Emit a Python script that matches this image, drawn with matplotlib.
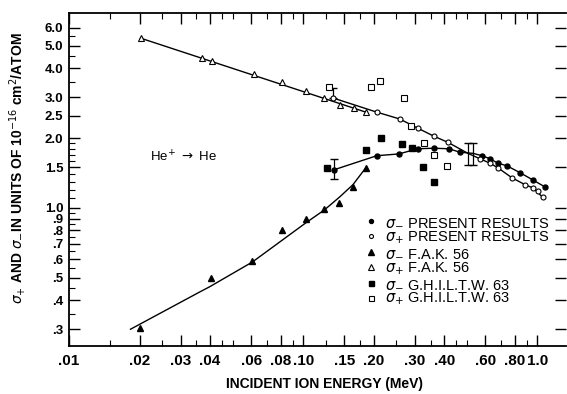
import matplotlib.pyplot as plt
from matplotlib.ticker import FixedLocator, NullFormatter

plt.rcParams["font.family"] = ["Liberation Sans", "DejaVu Sans"]
plt.rcParams["mathtext.fontset"] = "dejavusans"

# sigma_- present results (filled circles)
minus_present_e = [0.135, 0.206, 0.256, 0.308, 0.361, 0.419, 0.466, 0.581, 0.627,
                   0.678, 0.741, 0.842, 0.957, 1.08]
minus_present_y = [1.46, 1.68, 1.71, 1.80, 1.81, 1.80, 1.74, 1.68, 1.63,
                   1.56, 1.52, 1.42, 1.32, 1.23]
minus_err_e = [0.135, 0.53]
minus_err_y = [1.46, 1.72]
minus_err_lo = [0.13, 0.19]
minus_err_hi = [0.17, 0.19]

# sigma_+ present results (open circles)
plus_present_e = [0.134, 0.206, 0.258, 0.308, 0.361, 0.414, 0.568, 0.627, 0.678,
                  0.778, 0.885, 0.957, 1.005, 1.056]
plus_present_y = [2.98, 2.59, 2.42, 2.21, 2.04, 1.92, 1.63, 1.56, 1.49,
                  1.35, 1.26, 1.22, 1.18, 1.11]
plus_err_e = [0.134, 0.505]
plus_err_y = [2.98, 1.72]
plus_err_lo = [0.0, 0.19]
plus_err_hi = [0.30, 0.19]

# F.A.K. 56
minus_fak_e = [0.0200, 0.0402, 0.0604, 0.0809, 0.1025, 0.1224, 0.1417, 0.163, 0.185]
minus_fak_y = [0.304, 0.50, 0.59, 0.80, 0.896, 0.99, 1.05, 1.23, 1.49]
plus_fak_e = [0.0202, 0.0371, 0.0406, 0.0614, 0.0809, 0.1025, 0.1224, 0.1432, 0.1644, 0.185]
plus_fak_y = [5.40, 4.43, 4.30, 3.78, 3.49, 3.19, 2.98, 2.78, 2.70, 2.59]

# G.H.I.L.T.W. 63
minus_gh_e = [0.126, 0.185, 0.214, 0.264, 0.29, 0.324, 0.361]
minus_gh_y = [1.49, 1.78, 2.00, 1.89, 1.81, 1.50, 1.29]
plus_gh_e = [0.1285, 0.194, 0.212, 0.269, 0.288, 0.327, 0.361, 0.410]
plus_gh_y = [3.32, 3.32, 3.53, 2.98, 2.26, 1.91, 1.69, 1.52]

# drawn curves
fak_minus_curve_e = [0.0183, 0.0361, 0.0398, 0.0607, 0.1025, 0.123, 0.143, 0.163, 0.185]
fak_minus_curve_y = [0.30, 0.434, 0.457, 0.585, 0.862, 0.98, 1.115, 1.26, 1.49]
fak_plus_curve_e = [0.0202, 0.185]
fak_plus_curve_y = [5.40, 2.59]
plus_curve_e = [0.134, 0.206, 0.258, 0.308, 0.361, 0.414, 0.505, 0.568, 0.627,
                0.678, 0.778, 0.885, 0.957, 1.056]
plus_curve_y = [2.98, 2.59, 2.42, 2.21, 2.04, 1.92, 1.72, 1.63, 1.56,
                1.49, 1.35, 1.26, 1.22, 1.11]
minus_curve_e = [0.135, 0.206, 0.256, 0.308, 0.361, 0.419, 0.466, 0.53, 0.581,
                 0.627, 0.678, 0.741, 0.842, 0.957, 1.08]
minus_curve_y = [1.46, 1.68, 1.71, 1.80, 1.81, 1.80, 1.74, 1.72, 1.68,
                 1.63, 1.56, 1.52, 1.42, 1.32, 1.23]

x_ticks = [0.01, 0.02, 0.03, 0.04, 0.06, 0.08, 0.10, 0.15, 0.20, 0.30, 0.40, 0.60, 0.80, 1.0]
x_labels = [".01", ".02", ".03", ".04", ".06", ".08", ".10", ".15", ".20", ".30",
            ".40", ".60", ".80", "1.0"]
x_minor = [0.015, 0.025, 0.035, 0.045, 0.05, 0.07, 0.09, 0.125, 0.175, 0.25,
           0.35, 0.45, 0.5, 0.7, 0.9]
y_ticks = [6.0, 5.0, 4.0, 3.0, 2.5, 2.0, 1.5, 1.0, 0.9, 0.8, 0.7, 0.6, 0.5, 0.4, 0.3]
y_labels = ["6.0", "5.0", "4.0", "3.0", "2.5", "2.0", "1.5", "1.0", ".9", ".8", ".7",
            ".6", ".5", ".4", ".3"]
y_minor = [5.5, 4.5, 3.5, 1.9, 1.8, 1.7, 1.6, 1.4, 1.3, 1.2, 1.1,
           0.95, 0.85, 0.75, 0.65, 0.55, 0.45, 0.35]

fig = plt.figure(figsize=(5.67, 3.94), dpi=100)
ax = fig.add_axes([69 / 567, 48 / 394, 497 / 567, 333 / 394])
ax.set_xscale("log")
ax.set_yscale("log")
ax.set_xlim(0.01, 1.324)
ax.set_ylim(0.254, 6.93)

lw = 1.0
ax.plot(fak_minus_curve_e, fak_minus_curve_y, color="black", lw=lw)
ax.plot(fak_plus_curve_e, fak_plus_curve_y, color="black", lw=lw)
ax.plot(plus_curve_e, plus_curve_y, color="black", lw=lw)
ax.plot(minus_curve_e, minus_curve_y, color="black", lw=lw)

ax.errorbar(minus_err_e, minus_err_y, yerr=[minus_err_lo, minus_err_hi], fmt="none",
            ecolor="black", elinewidth=0.9, capsize=3)
ax.errorbar(plus_err_e, plus_err_y, yerr=[plus_err_lo, plus_err_hi], fmt="none",
            ecolor="black", elinewidth=0.9, capsize=3)

ax.plot(minus_present_e, minus_present_y, ls="none", marker="o", ms=3.6,
        mfc="black", mec="black", label=r"$\sigma_{-}$ PRESENT RESULTS")
ax.plot(plus_present_e, plus_present_y, ls="none", marker="o", ms=3.6,
        mfc="white", mec="black", mew=0.8, label=r"$\sigma_{+}$ PRESENT RESULTS")
ax.plot(minus_fak_e, minus_fak_y, ls="none", marker="^", ms=5,
        mfc="black", mec="black", label=r"$\sigma_{-}$ F.A.K. 56")
ax.plot(plus_fak_e, plus_fak_y, ls="none", marker="^", ms=5,
        mfc="white", mec="black", mew=0.8, label=r"$\sigma_{+}$ F.A.K. 56")
ax.plot(minus_gh_e, minus_gh_y, ls="none", marker="s", ms=4.5,
        mfc="black", mec="black", label=r"$\sigma_{-}$ G.H.I.L.T.W. 63")
ax.plot(plus_gh_e, plus_gh_y, ls="none", marker="s", ms=4.5,
        mfc="white", mec="black", mew=0.8, label=r"$\sigma_{+}$ G.H.I.L.T.W. 63")

ax.text(0.162, 0.568, r"He$^{+}$ $\rightarrow$ He", transform=ax.transAxes,
        fontsize=9.5, va="center", ha="left")

ax.legend(loc="upper left", bbox_to_anchor=(0.585, 0.41), frameon=False,
          fontsize=10.5, markerscale=0.8, handlelength=0.8, handletextpad=0.5,
          labelspacing=0.0, borderaxespad=0)

# ticks
ax.xaxis.set_major_locator(FixedLocator(x_ticks))
ax.xaxis.set_minor_locator(FixedLocator(x_minor))
ax.xaxis.set_minor_formatter(NullFormatter())
ax.set_xticklabels(x_labels)
ax.yaxis.set_major_locator(FixedLocator(y_ticks))
ax.yaxis.set_minor_locator(FixedLocator(y_minor))
ax.yaxis.set_minor_formatter(NullFormatter())
ax.set_yticklabels(y_labels)

ax.tick_params(axis="both", which="major", direction="in", length=8, width=1.0,
               top=True, right=True, labelsize=11, pad=6)
ax.tick_params(axis="y", which="major", labelsize=9.5, pad=4)
ax.tick_params(axis="both", which="minor", direction="in", length=4, width=0.8,
               top=True, right=False)
for lbl in ax.get_xticklabels() + ax.get_yticklabels():
    lbl.set_fontweight("bold")

ax.spines["right"].set_visible(False)
for side in ["left", "bottom", "top"]:
    ax.spines[side].set_linewidth(1.3)

fig.text(18 / 567, 0.573,
         r"$\sigma_{+}$ AND $\sigma_{-}$IN UNITS OF 10$^{-16}$ cm$^{2}$/ATOM",
         rotation=90, ha="center", va="center", fontsize=10, fontweight="bold")
fig.text(325 / 567, 1 - 384 / 394, "INCIDENT ION ENERGY (MeV)",
         ha="center", va="center", fontsize=10, fontweight="bold")

fig.savefig("out.png", dpi=100)
